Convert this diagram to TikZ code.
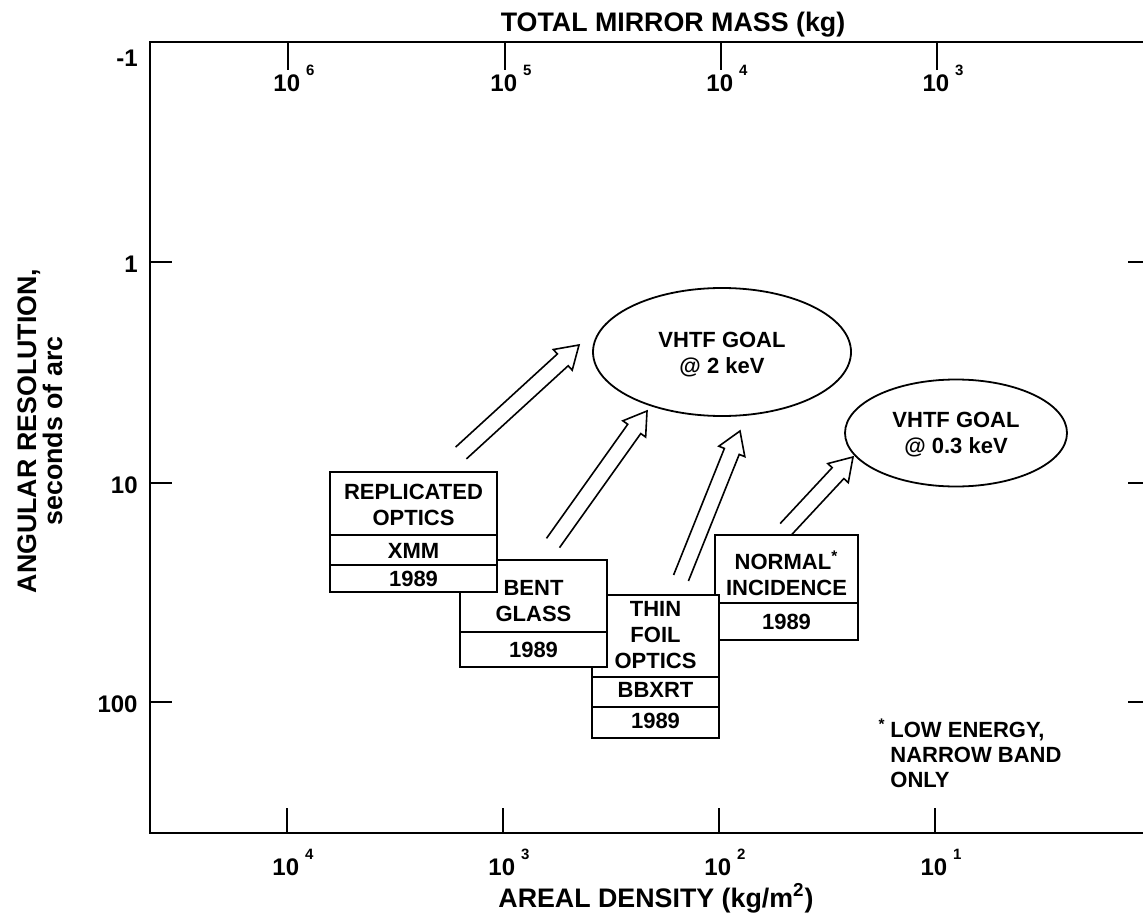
\documentclass[tikz,border=0pt]{standalone}
\usepackage{fontspec}
\setmainfont{Liberation Sans}
\usetikzlibrary{shapes.geometric, calc}

\newcommand{\tenpow}[1]{10\hspace{3pt}\raisebox{8pt}{\fontsize{7.5}{8}\selectfont #1}}
\newcommand{\fatarrow}[2]{%
  \draw[fatarr] ($(#1)!4pt!90:(#2)$) -- ($(#2)!11pt!(#1)!4pt!-90:(#1)$)
    -- ($(#2)!11pt!(#1)!7pt!-90:(#1)$) -- (#2)
    -- ($(#2)!11pt!(#1)!7pt!90:(#1)$) -- ($(#2)!11pt!(#1)!4pt!90:(#1)$)
    -- ($(#1)!4pt!-90:(#2)$);}

\begin{document}
\begin{tikzpicture}[x=0.5pt, y=-0.5pt,
    every node/.style={font=\bfseries\fontsize{11}{13}\selectfont, inner sep=0pt, align=center},
    axis/.style={font=\bfseries\fontsize{13.4}{13}\selectfont},
    ticklbl/.style={font=\bfseries\fontsize{12}{13}\selectfont},
    optbox/.style={draw, fill=white, line width=0.9pt},
    divider/.style={line width=0.6pt},
    goal/.style={draw, ellipse, line width=0.9pt},
    fatarr/.style={line width=0.8pt, line join=miter}]
  \useasboundingbox (0,0) rectangle (1143,914);

  \draw[line width=1.3pt] (1143,42) -- (150,42) -- (150,833) -- (1143,833);
  \foreach \x/\p in {288/6,505/5,721/4,937/3} {
    \draw[line width=0.6pt] (\x,42) -- (\x,70);
    \node[ticklbl, anchor=base] (mass\p) at (\x+6,92) {\tenpow{\p}};
  }
  \foreach \x/\p in {287/4,503/3,719/2,935/1} {
    \draw[line width=0.6pt] (\x,833) -- (\x,808);
    \node[ticklbl, anchor=base] (dens\p) at (\x+6,875) {\tenpow{\p}};
  }
  \foreach \y/\l in {262/1,483/10,702/100} {
    \draw[line width=0.6pt] (150,\y) -- (172,\y);
    \draw[line width=0.6pt] (1128,\y) -- (1143,\y);
    \node[ticklbl, anchor=east] (res\l) at (138,\y+2) {\l};
  }
  \node[ticklbl, anchor=east] (resm1) at (138,58) {-1};

  \node[axis, anchor=base] (masstitle) at (673,32) {TOTAL MIRROR MASS (kg)};
  \node[axis, anchor=base] (denstitle) at (656,907) {AREAL DENSITY (kg/m\textsuperscript{2})};
  \node[axis, rotate=90] (restitle) at (40,431) {ANGULAR RESOLUTION,\\seconds of arc};

  \node[goal, minimum width=129pt, minimum height=64pt] (goal2) at (722,352) {};
  \node (goal2txt) at (722,355) {VHTF GOAL\\@ 2 keV};
  \node[goal, minimum width=111pt, minimum height=53.5pt] (goal03) at (956,433) {};
  \node (goal03txt) at (956,435) {VHTF GOAL\\@ 0.3 keV};

  \node[optbox, minimum width=71.5pt, minimum height=52.5pt] (normal) at (786.5,587.5) {};
  \node (normaltxt) at (786.5,573) {NORMAL\textsuperscript{*}\\INCIDENCE};
  \draw[divider] (normal.west |- 0,603) -- (normal.east |- 0,603);
  \node (normalyr) at (786.5,622) {1989};

  \node[optbox, minimum width=63.5pt, minimum height=71.5pt] (thin) at (655.5,666.5) {};
  \node (thintxt) at (655.5,635) {THIN\\FOIL\\OPTICS};
  \draw[divider] (thin.west |- 0,677) -- (thin.east |- 0,677);
  \node (thinmis) at (655.5,690) {BBXRT};
  \draw[divider] (thin.west |- 0,707) -- (thin.east |- 0,707);
  \node (thinyr) at (655.5,721) {1989};

  \node[optbox, minimum width=73.5pt, minimum height=53.5pt] (bent) at (533.5,613.5) {};
  \node (benttxt) at (533.5,601.5) {BENT\\GLASS};
  \draw[divider] (bent.west |- 0,632) -- (bent.east |- 0,632);
  \node (bentyr) at (533.5,650) {1989};

  \node[optbox, minimum width=83.5pt, minimum height=60pt] (repl) at (413.5,532) {};
  \node (repltxt) at (413.5,505) {REPLICATED\\OPTICS};
  \draw[divider] (repl.west |- 0,535) -- (repl.east |- 0,535);
  \node (replmis) at (413.5,551) {XMM};
  \draw[divider] (repl.west |- 0,565) -- (repl.east |- 0,565);
  \node (replyr) at (413.5,579) {1989};

  \coordinate (a1s) at (461,453);
  \coordinate (a1e) at (579,345);
  \coordinate (a2s) at (553,543);
  \coordinate (a2e) at (647,411);
  \coordinate (a3s) at (681,578);
  \coordinate (a3e) at (740,431);
  \coordinate (a4s) at (786,529);
  \coordinate (a4e) at (853,457);
  \fatarrow{a1s}{a1e}
  \fatarrow{a2s}{a2e}
  \fatarrow{a3s}{a3e}
  \fatarrow{a4s}{a4e}

  \node (star) at (882,728) {\textsuperscript{*}};
  \node[anchor=west, align=left, font=\bfseries\fontsize{11}{12.5}\selectfont] (lownote) at (890,755) {LOW ENERGY,\\NARROW BAND\\ONLY};
\end{tikzpicture}
\end{document}
